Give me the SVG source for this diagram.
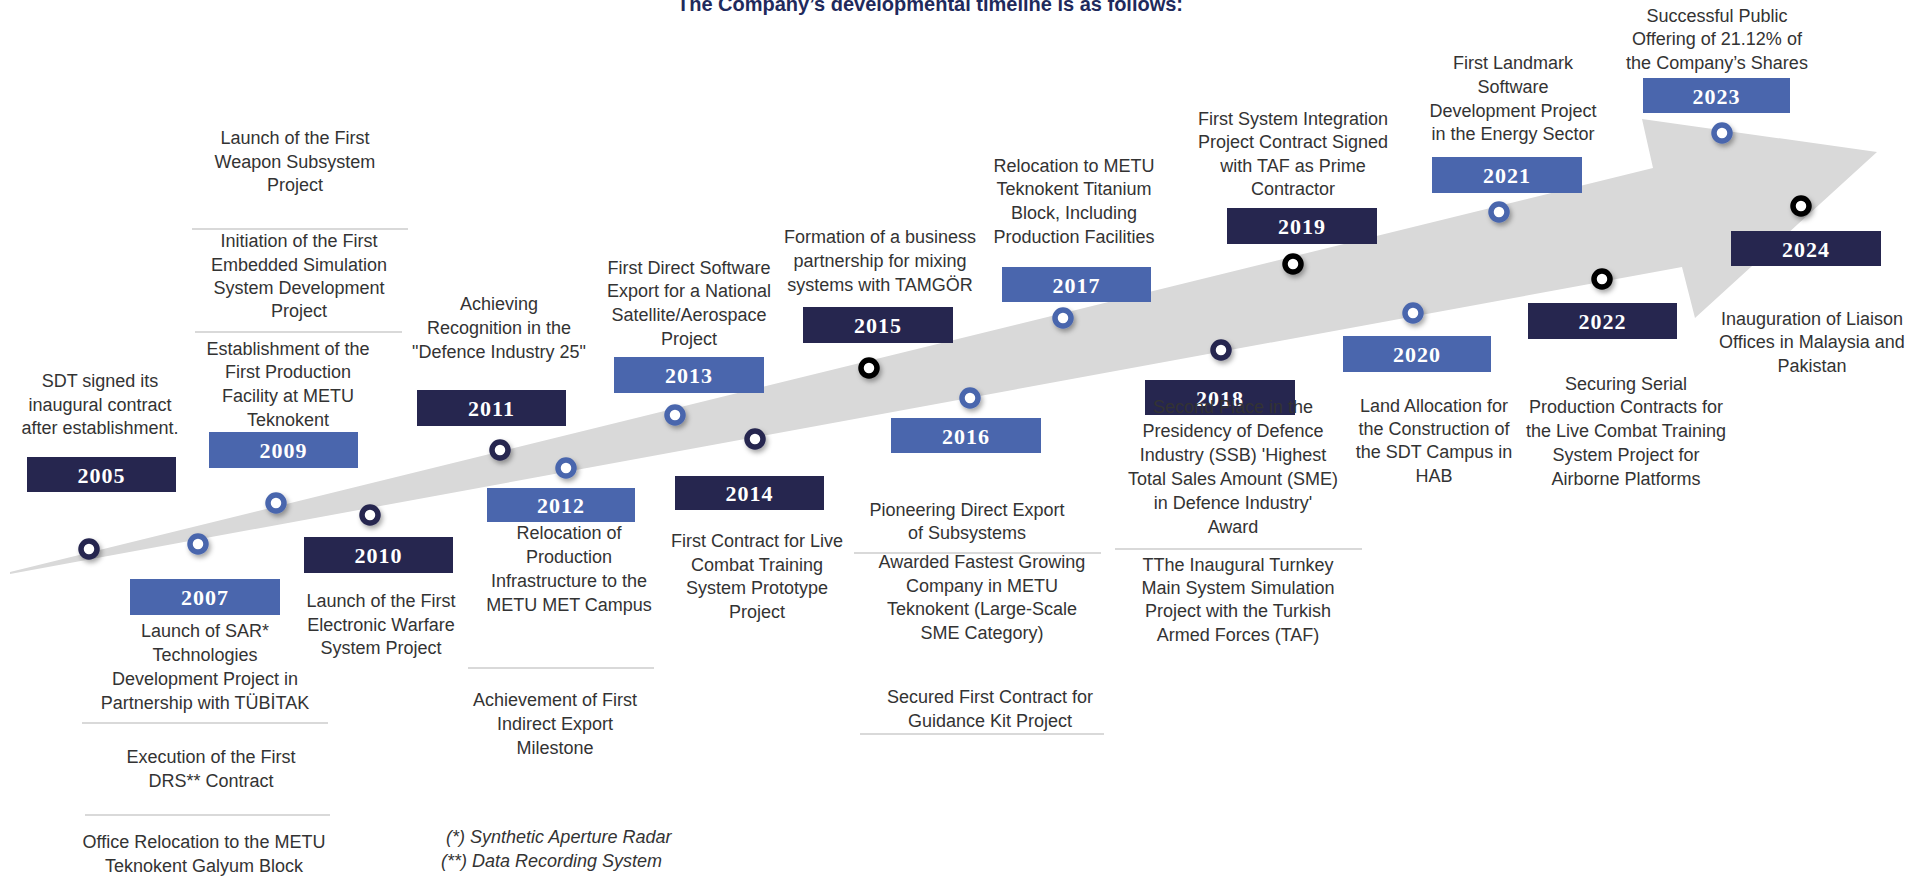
<svg xmlns="http://www.w3.org/2000/svg" width="1928" height="878" viewBox="0 0 1928 878">
<defs>
<style>
.t{font-family:"Liberation Sans",Arial,sans-serif;font-size:18px;fill:#333;text-anchor:middle}
.fn{font-family:"Liberation Sans",Arial,sans-serif;font-size:18px;fill:#333;font-style:italic}
.yr{font-family:"Liberation Serif","Times New Roman",serif;font-weight:bold;font-size:22px;fill:#fff;text-anchor:middle;letter-spacing:1px}
.bn{fill:#26264f}
.bb{fill:#4a66ad}
.sep{stroke:#d9d9d9;stroke-width:2;fill:none}
.rn{fill:#fff;stroke:#26264f;stroke-width:5.5;filter:url(#sh)}
.rb{fill:#fff;stroke:#4a66ad;stroke-width:5.5;filter:url(#sh)}
.rk{fill:#fff;stroke:#000;stroke-width:5.5;filter:url(#sh)}
.title{font-family:"Liberation Sans",Arial,sans-serif;font-weight:bold;font-size:20px;fill:#1f2a5c;text-anchor:middle}
</style>
<filter id="sh" x="-80%" y="-80%" width="260%" height="260%">
<feDropShadow dx="2" dy="3" stdDeviation="2.5" flood-color="#000" flood-opacity="0.35"/>
</filter>
</defs>
<rect width="1928" height="878" fill="#fff"/>
<text class="title" x="930" y="11">The Company’s developmental timeline is as follows:</text>

<g id="timeline-arrow">
<polygon points="10,572 1653,168 1642,119 1877,152 1695,318 1682,267 10,574" fill="#d9d9d9"/>
</g>

<g id="connectors">
<line class="sep" x1="192" y1="229" x2="408" y2="229"/>
<line class="sep" x1="195" y1="332" x2="402" y2="332"/>
<line class="sep" x1="82" y1="723" x2="328" y2="723"/>
<line class="sep" x1="85" y1="815" x2="330" y2="815"/>
<line class="sep" x1="468" y1="668" x2="654" y2="668"/>
<line class="sep" x1="854" y1="553" x2="1101" y2="553"/>
<line class="sep" x1="860" y1="734" x2="1104" y2="734"/>
<line class="sep" x1="1115" y1="549" x2="1362" y2="549"/>
</g>

<g id="y2005">
<rect class="bn" x="27" y="457" width="149" height="35"/>
<text class="yr" x="101.5" y="483">2005</text>
<circle class="rn" cx="89" cy="549" r="8"/>
<text class="t"><tspan x="100" y="387">SDT signed its</tspan><tspan x="100" y="411">inaugural contract</tspan><tspan x="100" y="434">after establishment.</tspan></text>
</g>

<g id="y2007">
<rect class="bb" x="130" y="579" width="150" height="36"/>
<text class="yr" x="205" y="605">2007</text>
<circle class="rb" cx="198" cy="544" r="8"/>
<text class="t"><tspan x="205" y="637">Launch of SAR*</tspan><tspan x="205" y="661">Technologies</tspan><tspan x="205" y="685">Development Project in</tspan><tspan x="205" y="709">Partnership with TÜBİTAK</tspan></text>
<text class="t"><tspan x="211" y="763">Execution of the First</tspan><tspan x="211" y="787">DRS** Contract</tspan></text>
<text class="t"><tspan x="204" y="848">Office Relocation to the METU</tspan><tspan x="204" y="872">Teknokent Galyum Block</tspan></text>
</g>

<g id="y2009">
<rect class="bb" x="209" y="432" width="149" height="36"/>
<text class="yr" x="283.5" y="458">2009</text>
<circle class="rb" cx="276" cy="503" r="8"/>
<text class="t"><tspan x="295" y="144">Launch of the First</tspan><tspan x="295" y="168">Weapon Subsystem</tspan><tspan x="295" y="191">Project</tspan></text>
<text class="t"><tspan x="299" y="247">Initiation of the First</tspan><tspan x="299" y="271">Embedded Simulation</tspan><tspan x="299" y="294">System Development</tspan><tspan x="299" y="317">Project</tspan></text>
<text class="t"><tspan x="288" y="355">Establishment of the</tspan><tspan x="288" y="378">First Production</tspan><tspan x="288" y="402">Facility at METU</tspan><tspan x="288" y="426">Teknokent</tspan></text>
</g>

<g id="y2010">
<rect class="bn" x="304" y="537" width="149" height="36"/>
<text class="yr" x="378.5" y="563">2010</text>
<circle class="rn" cx="370" cy="515" r="8"/>
<text class="t"><tspan x="381" y="607">Launch of the First</tspan><tspan x="381" y="631">Electronic Warfare</tspan><tspan x="381" y="654">System Project</tspan></text>
</g>

<g id="y2011">
<rect class="bn" x="417" y="390" width="149" height="36"/>
<text class="yr" x="491.5" y="416">2011</text>
<circle class="rn" cx="500" cy="450" r="8"/>
<text class="t"><tspan x="499" y="310">Achieving</tspan><tspan x="499" y="334">Recognition in the</tspan><tspan x="499" y="358">"Defence Industry 25"</tspan></text>
</g>

<g id="y2012">
<rect class="bb" x="487" y="488" width="148" height="34"/>
<text class="yr" x="561" y="513">2012</text>
<circle class="rb" cx="566" cy="468" r="8"/>
<text class="t"><tspan x="569" y="539">Relocation of</tspan><tspan x="569" y="563">Production</tspan><tspan x="569" y="587">Infrastructure to the</tspan><tspan x="569" y="611">METU MET Campus</tspan></text>
<text class="t"><tspan x="555" y="706">Achievement of First</tspan><tspan x="555" y="730">Indirect Export</tspan><tspan x="555" y="754">Milestone</tspan></text>
<text class="fn"><tspan x="446" y="843">(*) Synthetic Aperture Radar</tspan><tspan x="441" y="867">(**) Data Recording System</tspan></text>
</g>

<g id="y2013">
<rect class="bb" x="614" y="357" width="150" height="36"/>
<text class="yr" x="689" y="383">2013</text>
<circle class="rb" cx="675" cy="415" r="8"/>
<text class="t"><tspan x="689" y="274">First Direct Software</tspan><tspan x="689" y="297">Export for a National</tspan><tspan x="689" y="321">Satellite/Aerospace</tspan><tspan x="689" y="345">Project</tspan></text>
</g>

<g id="y2014">
<rect class="bn" x="675" y="476" width="149" height="34"/>
<text class="yr" x="749.5" y="501">2014</text>
<circle class="rn" cx="755" cy="439" r="8"/>
<text class="t"><tspan x="757" y="547">First Contract for Live</tspan><tspan x="757" y="571">Combat Training</tspan><tspan x="757" y="594">System Prototype</tspan><tspan x="757" y="618">Project</tspan></text>
</g>

<g id="y2015">
<rect class="bn" x="803" y="307" width="150" height="36"/>
<text class="yr" x="878" y="333">2015</text>
<circle class="rk" cx="869" cy="368" r="8"/>
<text class="t"><tspan x="880" y="243">Formation of a business</tspan><tspan x="880" y="267">partnership for mixing</tspan><tspan x="880" y="291">systems with TAMGÖR</tspan></text>
</g>

<g id="y2016">
<rect class="bb" x="891" y="418" width="150" height="35"/>
<text class="yr" x="966" y="444">2016</text>
<circle class="rb" cx="970" cy="398" r="8"/>
<text class="t"><tspan x="967" y="516">Pioneering Direct Export</tspan><tspan x="967" y="539">of Subsystems</tspan></text>
<text class="t"><tspan x="982" y="568">Awarded Fastest Growing</tspan><tspan x="982" y="592">Company in METU</tspan><tspan x="982" y="615">Teknokent (Large-Scale</tspan><tspan x="982" y="639">SME Category)</tspan></text>
<text class="t"><tspan x="990" y="703">Secured First Contract for</tspan><tspan x="990" y="727">Guidance Kit Project</tspan></text>
</g>

<g id="y2017">
<rect class="bb" x="1002" y="267" width="149" height="35"/>
<text class="yr" x="1076.5" y="293">2017</text>
<circle class="rb" cx="1063" cy="318" r="8"/>
<text class="t"><tspan x="1074" y="172">Relocation to METU</tspan><tspan x="1074" y="195">Teknokent Titanium</tspan><tspan x="1074" y="219">Block, Including</tspan><tspan x="1074" y="243">Production Facilities</tspan></text>
</g>

<g id="y2018">
<rect class="bn" x="1145" y="380" width="150" height="35"/>
<text class="yr" x="1220" y="406">2018</text>
<circle class="rn" cx="1221" cy="350" r="8"/>
<text class="t"><tspan x="1233" y="413">Second Place in the</tspan><tspan x="1233" y="437">Presidency of Defence</tspan><tspan x="1233" y="461">Industry (SSB) 'Highest</tspan><tspan x="1233" y="485">Total Sales Amount (SME)</tspan><tspan x="1233" y="509">in Defence Industry'</tspan><tspan x="1233" y="533">Award</tspan></text>
<text class="t"><tspan x="1238" y="571">TThe Inaugural Turnkey</tspan><tspan x="1238" y="594">Main System Simulation</tspan><tspan x="1238" y="617">Project with the Turkish</tspan><tspan x="1238" y="641">Armed Forces (TAF)</tspan></text>
</g>

<g id="y2019">
<rect class="bn" x="1227" y="208" width="150" height="36"/>
<text class="yr" x="1302" y="234">2019</text>
<circle class="rk" cx="1293" cy="264" r="8"/>
<text class="t"><tspan x="1293" y="125">First System Integration</tspan><tspan x="1293" y="148">Project Contract Signed</tspan><tspan x="1293" y="172">with TAF as Prime</tspan><tspan x="1293" y="195">Contractor</tspan></text>
</g>

<g id="y2020">
<rect class="bb" x="1343" y="336" width="148" height="36"/>
<text class="yr" x="1417" y="362">2020</text>
<circle class="rb" cx="1413" cy="313" r="8"/>
<text class="t"><tspan x="1434" y="412">Land Allocation for</tspan><tspan x="1434" y="435">the Construction of</tspan><tspan x="1434" y="458">the SDT Campus in</tspan><tspan x="1434" y="482">HAB</tspan></text>
</g>

<g id="y2021">
<rect class="bb" x="1432" y="157" width="150" height="36"/>
<text class="yr" x="1507" y="183">2021</text>
<circle class="rb" cx="1499" cy="212" r="8"/>
<text class="t"><tspan x="1513" y="69">First Landmark</tspan><tspan x="1513" y="93">Software</tspan><tspan x="1513" y="117">Development Project</tspan><tspan x="1513" y="140">in the Energy Sector</tspan></text>
</g>

<g id="y2022">
<rect class="bn" x="1528" y="303" width="149" height="36"/>
<text class="yr" x="1602.5" y="329">2022</text>
<circle class="rk" cx="1602" cy="279" r="8"/>
<text class="t"><tspan x="1626" y="390">Securing Serial</tspan><tspan x="1626" y="413">Production Contracts for</tspan><tspan x="1626" y="437">the Live Combat Training</tspan><tspan x="1626" y="461">System Project for</tspan><tspan x="1626" y="485">Airborne Platforms</tspan></text>
</g>

<g id="y2023">
<rect class="bb" x="1643" y="78" width="147" height="35"/>
<text class="yr" x="1716.5" y="104">2023</text>
<circle class="rb" cx="1722" cy="133" r="8"/>
<text class="t"><tspan x="1717" y="22">Successful Public</tspan><tspan x="1717" y="45">Offering of 21.12% of</tspan><tspan x="1717" y="69">the Company’s Shares</tspan></text>
</g>

<g id="y2024">
<rect class="bn" x="1731" y="231" width="150" height="35"/>
<text class="yr" x="1806" y="257">2024</text>
<circle class="rk" cx="1801" cy="206" r="8"/>
<text class="t"><tspan x="1812" y="325">Inauguration of Liaison</tspan><tspan x="1812" y="348">Offices in Malaysia and</tspan><tspan x="1812" y="372">Pakistan</tspan></text>
</g>
</svg>
